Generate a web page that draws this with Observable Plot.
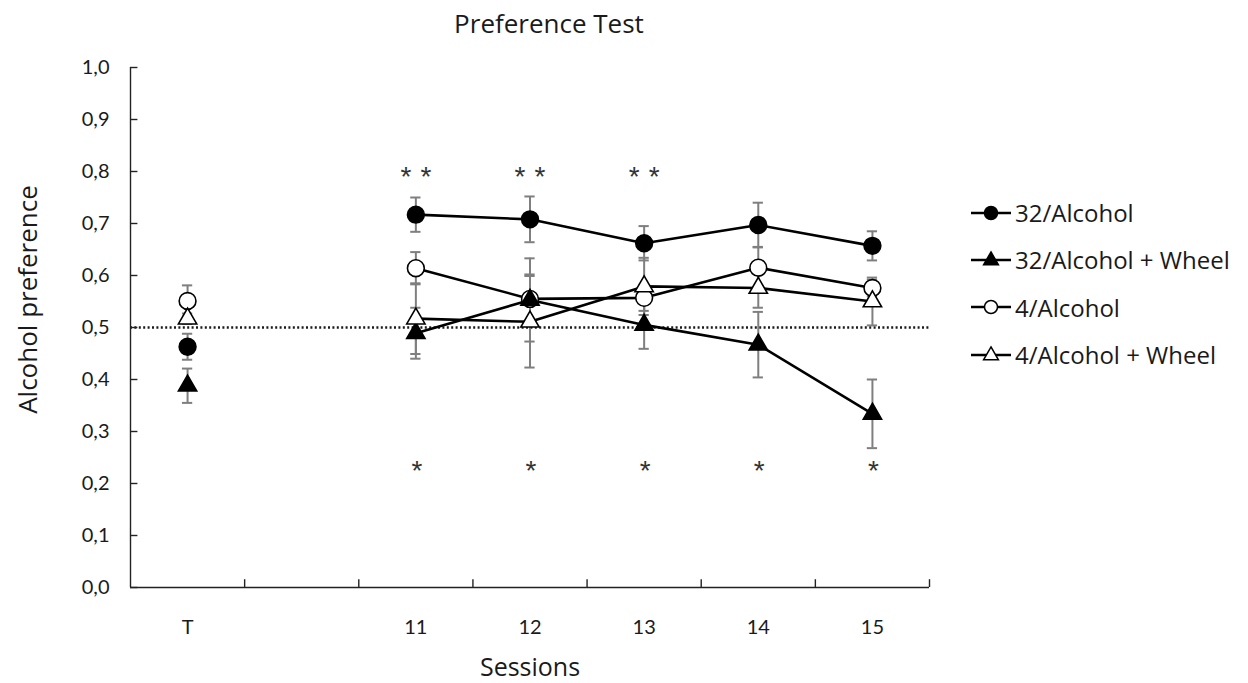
<!DOCTYPE html>
<html>
<head>
<meta charset="utf-8">
<script src="https://cdn.jsdelivr.net/npm/d3@7"></script>
<script src="https://cdn.jsdelivr.net/npm/@observablehq/plot@0.6"></script>
<style>
  body { margin: 0; background: #fff; font-family: "Open Sans", Lato, sans-serif; }
  #wrap { position: relative; width: 1248px; height: 683px; overflow: hidden; }
  #title { position: absolute; left: 0; top: 5px; width: 1098px; text-align: center; font-size: 26px; color: #1a1a1a; }
  #legend { position: absolute; left: 968px; top: 189px; }
  .row { display: flex; align-items: center; height: 47.3px; font-size: 24px; color: #1a1a1a; white-space: nowrap; }
  .row svg { margin-right: 1px; }
</style>
</head>
<body>
<div id="wrap">
  <div id="title">Preference Test</div>
  <div id="chart"></div>
  <div id="legend"></div>
</div>
<script>
// ---- data ----
const sessions = ["T", "", "11", "12", "13", "14", "15"];
const seriesNames = ["32/Alcohol", "32/Alcohol + Wheel", "4/Alcohol", "4/Alcohol + Wheel"];
const alcohol32      = [0.463, null, 0.717, 0.708, 0.662, 0.697, 0.657];
const alcohol32Err   = [0.025, null, 0.033, 0.044, 0.033, 0.043, 0.028];
const wheel32        = [0.388, null, 0.489, 0.553, 0.505, 0.467, 0.334];
const wheel32Err     = [0.033, null, 0.049, 0.080, 0.046, 0.063, 0.066];
const alcohol4       = [0.551, null, 0.614, 0.555, 0.557, 0.615, 0.576];
const alcohol4Err    = [0.030, null, 0.031, 0.047, 0.025, 0.040, 0.016];
const wheel4         = [0.517, null, 0.517, 0.511, 0.579, 0.576, 0.550];
const wheel4Err      = [0.010, null, 0.068, 0.088, 0.055, 0.038, 0.046];
const yTicks = [0, 0.1, 0.2, 0.3, 0.4, 0.5, 0.6, 0.7, 0.8, 0.9, 1.0];
const chanceLevel = [0.5];
const doubleStarSessions = ["11", "12", "13"];
const singleStarSessions = ["11", "12", "13", "14", "15"];
const doubleStarLevel = 0.796;
const singleStarLevel = 0.23;
const xTitle = "Sessions";
const yTitle = "Alcohol preference";

// ---- build table ----
const seriesValues = [alcohol32, wheel32, alcohol4, wheel4];
const seriesErrors = [alcohol32Err, wheel32Err, alcohol4Err, wheel4Err];
const seriesStyle = [
  {symbol: "circle", fill: "black"},
  {symbol: "triangle", fill: "black"},
  {symbol: "circle", fill: "white"},
  {symbol: "triangle", fill: "white"}
];
const rows = [];
seriesNames.forEach((name, s) => {
  seriesValues[s].forEach((v, i) => {
    if (v == null) return;
    rows.push({series: name, s, x: i, y: v, err: seriesErrors[s][i], connect: i >= 2,
      symbol: seriesStyle[s].symbol, fill: seriesStyle[s].fill});
  });
});
const caps = rows.flatMap(d => [{x: d.x, y: d.y - d.err}, {x: d.x, y: d.y + d.err}]);
const idx = k => sessions.indexOf(k);
const boundaries = d3.range(sessions.length).map(i => i + 0.5);
const labelIdx = sessions.map((s, i) => s === "" ? null : i).filter(i => i != null);

const capHalf = 0.045;
const starFont = "'Liberation Sans', Arial, sans-serif";
const plot = Plot.plot({
  width: 1248,
  height: 683,
  marginLeft: 130,
  marginRight: 319,
  marginTop: 67,
  marginBottom: 96,
  style: {fontFamily: "Lato, 'Open Sans', sans-serif", fontSize: "20px", color: "#1a1a1a", background: "white"},
  x: {type: "linear", domain: [-0.5, sessions.length - 0.5]},
  y: {domain: [0, 1]},
  marks: [
    Plot.ruleY(chanceLevel, {stroke: "#1a1a1a", strokeWidth: 2.4, strokeDasharray: "2,2.4"}),
    Plot.ruleY([0], {x1: -0.5, x2: sessions.length - 0.5, stroke: "#222", strokeWidth: 1.4}),
    Plot.ruleX([-0.5], {y1: 0, y2: 1, stroke: "#222", strokeWidth: 1.4}),
    Plot.ruleY(yTicks, {x1: -0.5, x2: -0.5 + 0.065, stroke: "#222", strokeWidth: 1.4}),
    Plot.ruleX(boundaries, {y1: 0, y2: 0.015, stroke: "#222", strokeWidth: 1.4}),
    Plot.axisY({ticks: yTicks, tickSize: 0, tickPadding: 21, fontSize: 20,
      tickFormat: d => d.toFixed(1).replace(".", ","), label: null}),
    Plot.axisX({ticks: labelIdx, tickSize: 0, tickPadding: 32, fontSize: 20,
      tickFormat: i => sessions[i], label: null}),
    Plot.text([yTitle], {frameAnchor: "left", textAnchor: "middle", text: d => d, rotate: -90, dx: -102, dy: -28,
      fontSize: 26, fontFamily: "'Open Sans', sans-serif", fill: "#1a1a1a"}),
    Plot.text([xTitle], {frameAnchor: "bottom", textAnchor: "middle", text: d => d, dy: 88,
      fontSize: 25, fontFamily: "'Open Sans', sans-serif", fill: "#1a1a1a"}),
    Plot.ruleX(rows, {x: "x", y1: d => d.y - d.err, y2: d => d.y + d.err, stroke: "#7f7f7f", strokeWidth: 2}),
    Plot.ruleY(caps, {y: "y", x1: d => d.x - capHalf, x2: d => d.x + capHalf, stroke: "#7f7f7f", strokeWidth: 2}),
    Plot.line(rows.filter(d => d.connect), {x: "x", y: "y", z: "series", stroke: "black", strokeWidth: 2.6}),
    Plot.dot(rows.filter(d => d.symbol === "circle"), {x: "x", y: "y", r: 8.4, fill: "fill", stroke: "black", strokeWidth: 1.6}),
    Plot.dot(rows.filter(d => d.symbol === "triangle"), {x: "x", y: "y", r: 6.8, symbol: "triangle", fill: "fill", stroke: "black", strokeWidth: 1.6}),
    Plot.text(doubleStarSessions, {x: d => idx(d), y: doubleStarLevel, text: () => "*", fontSize: 28, fontFamily: starFont, fill: "#333", dx: -10, dy: 3}),
    Plot.text(doubleStarSessions, {x: d => idx(d), y: doubleStarLevel, text: () => "*", fontSize: 28, fontFamily: starFont, fill: "#333", dx: 10, dy: 3}),
    Plot.text(singleStarSessions, {x: d => idx(d), y: singleStarLevel, text: () => "*", fontSize: 28, fontFamily: starFont, fill: "#333", dx: 1, dy: 3})
  ]
});
document.getElementById("chart").appendChild(plot);

// ---- legend ----
const legend = d3.select("#legend");
seriesNames.forEach((name, s) => {
  const row = legend.append("div").attr("class", "row");
  const svg = row.append("svg").attr("width", 46).attr("height", 22);
  svg.append("line").attr("x1", 3).attr("x2", 43).attr("y1", 11).attr("y2", 11)
    .attr("stroke", "black").attr("stroke-width", 2.4);
  const st = seriesStyle[s];
  if (st.symbol === "circle") {
    svg.append("circle").attr("cx", 23).attr("cy", 11).attr("r", 6.5)
      .attr("fill", st.fill).attr("stroke", "black").attr("stroke-width", 1.5);
  } else {
    svg.append("path").attr("transform", "translate(23,11.5)")
      .attr("d", d3.symbol(d3.symbolTriangle, 95)())
      .attr("fill", st.fill).attr("stroke", "black").attr("stroke-width", 1.5);
  }
  row.append("span").text(name);
});
</script>
</body>
</html>
